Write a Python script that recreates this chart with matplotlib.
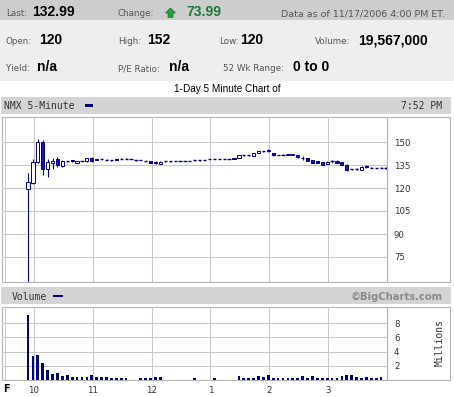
import numpy as np
import matplotlib.pyplot as plt
from matplotlib.patches import Rectangle, Polygon

# 5-minute bars for NMX on 11/17/2006, first bar ~9:54, one bar every 5 minutes
bar_start_hour = 9 + 54 / 60
opens = [119.5, 123.3, 137.0, 150.0, 132.4, 136.3, 139.0, 134.5, 137.9, 138.3,
         136.6, 137.5, 137.3, 139.8, 138.2, 139.2, 138.5, 138.3, 138.9, 139.0,
         139.0, 138.8, 138.3, 138.3, 137.8, 137.7, 137.2, 135.8, 137.8, 137.8,
         137.8, 137.8, 137.8, 137.8, 138.3, 138.3, 138.3, 138.7, 139.1, 139.1,
         139.1, 139.1, 139.8, 139.3, 141.5, 141.5, 140.9, 142.6, 144.3, 145.0,
         142.8, 141.8, 141.8, 142.2, 142.0, 141.5, 139.6, 139.6, 138.0, 137.4,
         137.0, 135.8, 137.3, 137.8, 137.0, 135.0, 132.6, 132.6, 132.0, 134.6,
         133.2, 133.0, 133.1, 133.0]
highs = [130.0, 138.9, 152.0, 151.3, 138.9, 139.6, 140.0, 138.5, 137.9, 138.5,
         137.8, 137.5, 139.5, 140.2, 139.0, 139.6, 139.2, 138.3, 139.1, 139.5,
         139.4, 138.8, 138.3, 138.3, 137.8, 137.8, 137.3, 137.3, 137.8, 137.8,
         137.8, 137.8, 137.8, 137.8, 138.3, 138.3, 138.3, 138.7, 139.1, 139.1,
         139.1, 139.1, 139.8, 141.5, 141.5, 141.5, 142.6, 144.3, 144.3, 145.6,
         143.0, 141.8, 142.3, 142.3, 142.1, 141.8, 140.9, 139.8, 138.3, 137.6,
         137.2, 137.5, 138.3, 138.0, 137.2, 135.4, 132.6, 133.2, 134.2, 135.2,
         133.6, 133.0, 133.5, 133.4]
lows = [50.0, 122.6, 136.5, 128.5, 127.2, 132.4, 134.0, 134.0, 136.7, 137.0,
        136.4, 137.5, 137.0, 137.2, 138.0, 138.5, 138.0, 137.6, 138.4, 138.6,
        138.6, 138.8, 137.7, 138.3, 137.8, 136.3, 135.9, 135.7, 137.2, 137.2,
        137.8, 137.8, 137.8, 137.8, 137.8, 137.8, 138.3, 138.7, 139.1, 139.1,
        139.1, 139.1, 138.7, 139.3, 141.0, 141.0, 140.9, 142.6, 143.7, 143.7,
        141.0, 141.2, 141.3, 141.4, 141.3, 139.8, 138.3, 137.6, 136.1, 136.0,
        135.0, 135.7, 136.6, 136.1, 134.8, 131.2, 131.6, 131.8, 131.8, 133.3,
        132.8, 133.0, 132.8, 132.6]
closes = [124.0, 137.0, 150.0, 132.4, 137.0, 137.6, 134.7, 137.8, 137.9, 137.4,
          137.6, 137.5, 139.3, 137.4, 138.8, 138.7, 138.5, 138.3, 138.5, 139.0,
          139.0, 138.8, 138.3, 138.3, 137.8, 136.5, 136.0, 137.2, 137.8, 137.8,
          137.8, 137.8, 137.8, 137.8, 138.3, 138.3, 138.3, 138.7, 139.1, 139.1,
          139.1, 139.1, 139.0, 141.5, 141.5, 141.5, 142.6, 144.3, 144.3, 143.9,
          141.3, 141.8, 141.8, 141.5, 141.4, 140.0, 139.4, 137.8, 136.3, 136.3,
          135.3, 137.2, 137.3, 136.3, 135.0, 132.0, 132.6, 132.6, 134.0, 133.6,
          133.2, 133.0, 133.1, 133.0]
# volume in millions (0 = no trades in that bar)
volume = [9.15, 3.4, 3.5, 2.4, 1.4, 0.85, 1.0, 0.55, 0.65, 0.47,
          0.47, 0.47, 0.47, 0.7, 0.38, 0.47, 0.38, 0.33, 0.33, 0.33,
          0.33, 0, 0, 0.3, 0.3, 0.3, 0.45, 0.45, 0, 0,
          0, 0, 0, 0, 0.3, 0, 0, 0, 0.3, 0,
          0, 0, 0, 0.6, 0.3, 0.3, 0.33, 0.6, 0.45, 0.75,
          0.33, 0.33, 0.33, 0.33, 0.33, 0.33, 0.56, 0.33, 0.56, 0.33,
          0.33, 0.33, 0.33, 0.33, 0.56, 0.75, 0.75, 0.42, 0.33, 0.42,
          0.33, 0.33, 0.47]

price_ticks = [75, 90, 105, 120, 135, 150]
vol_ticks = [2, 4, 6, 8]
hour_ticks = [9.5, 10, 11, 12, 13, 14, 15]
hour_labels = ['', '10', '11', '12', '1', '2', '3']

navy = '#000080'
grid_c = '#c8c8c8'
mono = 'DejaVu Sans Mono'

W, H = 454, 397
fig = plt.figure(figsize=(W / 100, H / 100), dpi=100)

# background / page decoration in pixel coords
bg = fig.add_axes([0, 0, 1, 1])
bg.set_xlim(0, W)
bg.set_ylim(H, 0)
bg.axis('off')


def box(x0, y0, x1, y1, fc, ec='none', lw=0):
    bg.add_patch(Rectangle((x0, y0), x1 - x0, y1 - y0, facecolor=fc, edgecolor=ec, lw=lw))


box(0, 0, W, 20, '#cdcdcd')
box(0, 20, W, 81, '#eeeeee')

lab = dict(fontsize=6.3, color='#555555', va='baseline', family='DejaVu Sans')
val = dict(fontsize=10, fontweight='bold', color='black', va='baseline', family='Liberation Sans')

bg.text(6, 16.5, 'Last:', **lab)
bg.text(32, 16.5, '132.99', **val)
bg.text(118, 16.5, 'Change:', **lab)
bg.add_patch(Polygon([(165.5, 13), (170.5, 8), (175.5, 13), (173, 13), (173, 17.3), (168, 17.3), (168, 13)],
                     closed=True, facecolor='#22a040', edgecolor='#16702c', lw=0.5))
bg.text(186, 16.5, '73.99', **dict(val, color='#1a7a3a'))
bg.text(445, 16.5, 'Data as of 11/17/2006 4:00 PM ET.', ha='right', **dict(lab, fontsize=6.8))

bg.text(6, 44.3, 'Open:', **lab)
bg.text(39, 44.3, '120', **val)
bg.text(118, 44.3, 'High:', **lab)
bg.text(147, 44.3, '152', **val)
bg.text(238.5, 44.3, 'Low:', ha='right', **lab)
bg.text(240, 44.3, '120', **val)
bg.text(315, 44.3, 'Volume:', **lab)
bg.text(358, 44.3, '19,567,000', **val)

bg.text(6, 71, 'Yield:', **lab)
bg.text(37, 71, 'n/a', **val)
bg.text(118, 71, 'P/E Ratio:', **lab)
bg.text(169, 71, 'n/a', **val)
bg.text(223, 71, '52 Wk Range:', **lab)
bg.text(293, 71, '0 to 0', **val)

bg.text(227, 92.5, '1-Day 5 Minute Chart of', ha='center', va='baseline',
        fontsize=7.2, family='Liberation Sans', color='black')

# chart title bands
box(1, 97, 451, 114, '#d4d4d4')
bg.text(3.5, 109.3, 'NMX 5-Minute', family=mono, fontsize=7, color='#333333', va='baseline')
box(85, 104.3, 93, 106.8, navy)
bg.text(442, 109.3, '7:52 PM', family=mono, fontsize=7, color='#333333', va='baseline', ha='right')

box(1, 287, 451, 304, '#d4d4d4')
bg.text(11.7, 300, 'Volume', family=mono, fontsize=7, color='#333333', va='baseline')
box(53, 294.5, 63, 297.2, navy)
bg.text(443, 300, '\u00a9BigCharts.com', fontsize=7.2, fontweight='bold', color='#8a8a8a',
        va='baseline', ha='right', family='DejaVu Sans')

# frames
box(1.5, 116.5, 449.5, 282, 'white', '#b4b4b4', 0.8)
box(1.5, 306.5, 449.5, 380, 'white', '#b4b4b4', 0.8)

bg.text(3, 391.7, 'F', fontsize=7, fontweight='bold', va='baseline', family='DejaVu Sans')
bg.text(440, 343, 'Millions', rotation=90, family=mono, fontsize=7, color='#333333',
        ha='center', va='center')


def data_axes(y0, y1):
    ax = fig.add_axes([1.5 / W, 1 - y1 / H, (387 - 1.5) / W, (y1 - y0) / H])
    ax.set_facecolor('none')
    for side in ['top', 'bottom', 'left']:
        ax.spines[side].set_visible(False)
    ax.spines['right'].set_color('#b4b4b4')
    ax.spines['right'].set_linewidth(0.8)
    ax.set_xlim(9.449, 16.0)
    ax.set_xticks(hour_ticks)
    ax.grid(True, color=grid_c, lw=0.75)
    ax.set_axisbelow(True)
    ax.yaxis.tick_right()
    ax.tick_params(length=0, labelsize=6.2, labelcolor='#333333')
    ax.tick_params(axis='y', pad=5)
    return ax


n = len(closes)
times = bar_start_hour + np.arange(n) * 5 / 60
px_hr = (387 - 1.5) / (16.0 - 9.449)
body_w = 3.2 / px_hr

# price panel
ax = data_axes(117, 282)
ax.set_ylim(75 - 25 * 15 / 23, 150 + 25 * 15 / 23)
ax.set_yticks(price_ticks)
ax.set_xticklabels([])
o = np.array(opens)
c = np.array(closes)
ax.vlines(times, lows, highs, color=navy, lw=0.8, zorder=3)
up = c > o
down = c < o
flat = c == o
ax.bar(times[up], (c - o)[up], bottom=o[up], width=body_w, facecolor='white',
       edgecolor=navy, lw=0.7, zorder=4)
ax.bar(times[down], (o - c)[down], bottom=c[down], width=body_w, facecolor='#1010c8',
       edgecolor=navy, lw=0.7, zorder=4)
ax.hlines(c[flat], times[flat] - body_w / 2, times[flat] + body_w / 2, color=navy, lw=1.0, zorder=4)

# volume panel
vax = data_axes(307, 380)
vax.set_ylim(0, 73 / 7.1)
vax.set_yticks(vol_ticks)
vax.set_xticklabels(hour_labels)
vax.tick_params(axis='x', pad=4)
vt = times[:len(volume)]
vax.bar(vt, volume, width=2.7 / px_hr, color=navy, zorder=3)

fig.savefig('out.png', dpi=100)
